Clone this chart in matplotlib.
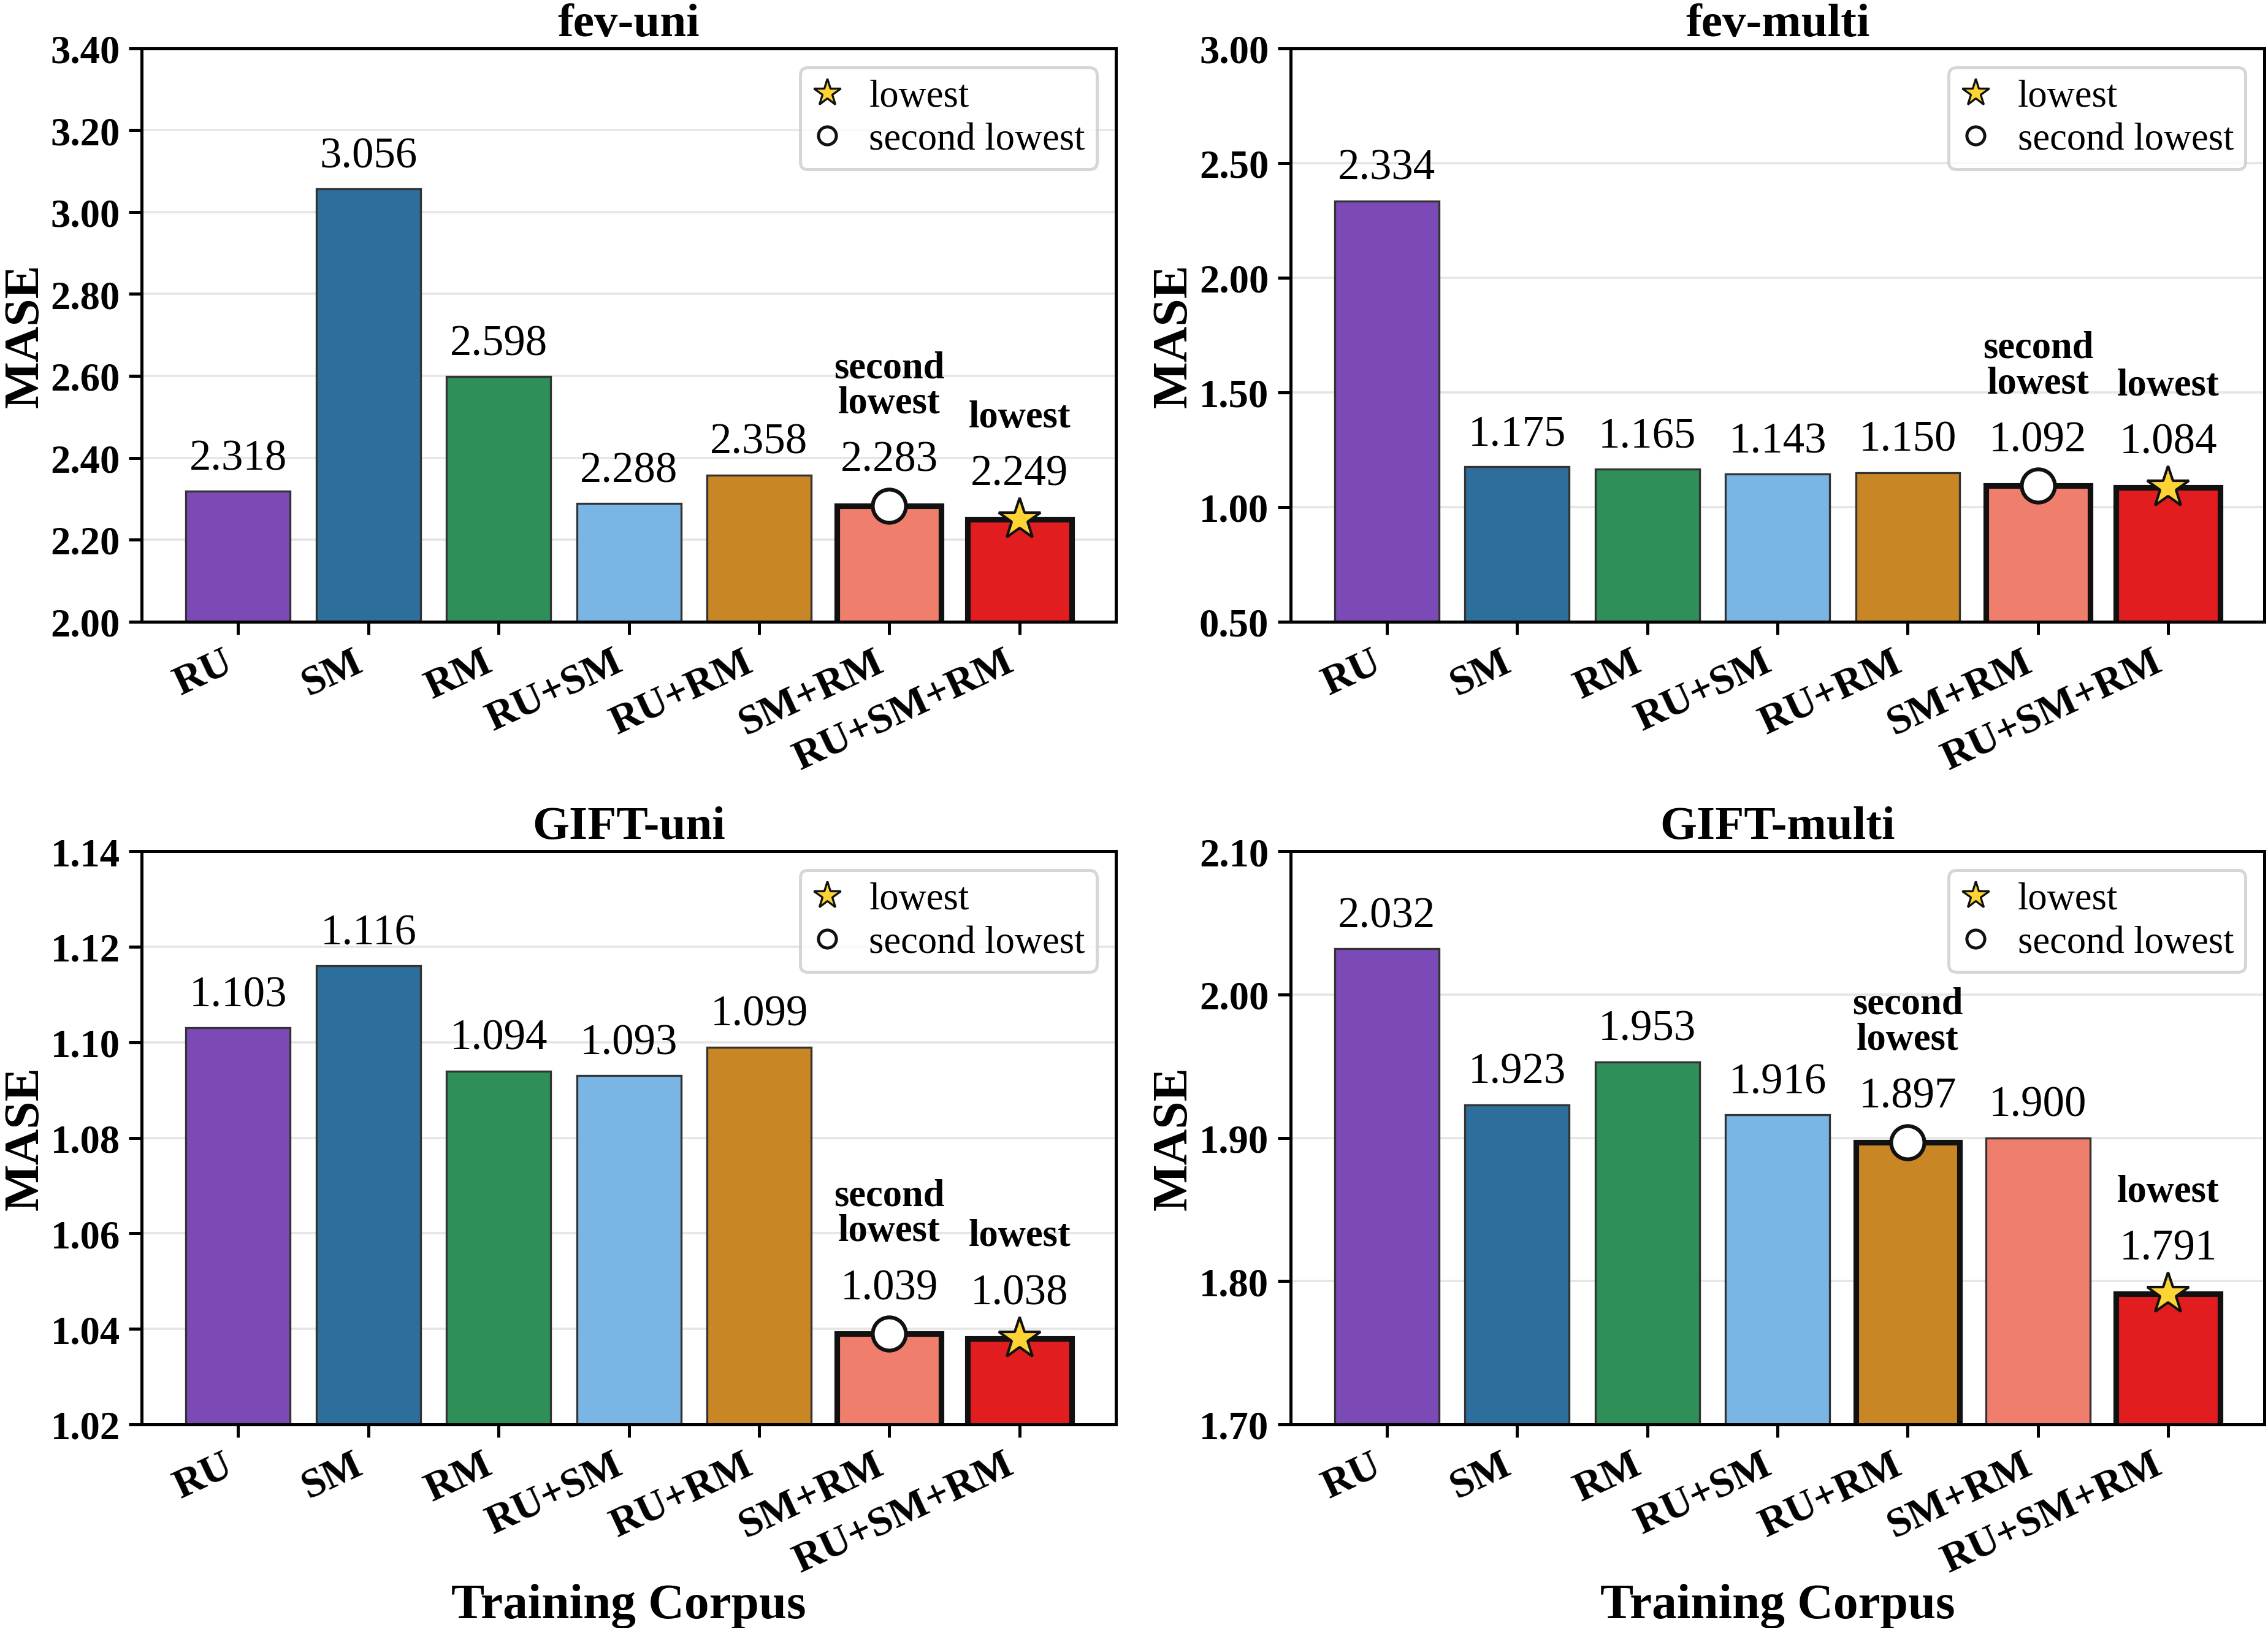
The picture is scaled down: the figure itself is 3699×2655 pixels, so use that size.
import numpy as np
import matplotlib
matplotlib.use("Agg")
import matplotlib.pyplot as plt
from matplotlib.lines import Line2D

plt.rcParams['font.family'] = ['Liberation Serif', 'DejaVu Serif']

corpora = ["RU", "SM", "RM", "RU+SM", "RU+RM", "SM+RM", "RU+SM+RM"]
colors = ["#7b4ab6", "#2e6e9c", "#2e8f59", "#79b6e6", "#c98624", "#f07e6c", "#e11d1f"]

titles = ["fev-uni", "fev-multi", "GIFT-uni", "GIFT-multi"]
fev_uni = [2.318, 3.056, 2.598, 2.288, 2.358, 2.283, 2.249]
fev_multi = [2.334, 1.175, 1.165, 1.143, 1.150, 1.092, 1.084]
gift_uni = [1.103, 1.116, 1.094, 1.093, 1.099, 1.039, 1.038]
gift_multi = [2.032, 1.923, 1.953, 1.916, 1.897, 1.900, 1.791]

# y-axis ranges and tick steps per panel
ylims = [(2.00, 3.40), (0.50, 3.00), (1.02, 1.14), (1.70, 2.10)]
ysteps = [0.20, 0.50, 0.02, 0.10]

fig = plt.figure(figsize=(12.33, 8.853), dpi=300)
rects = [[0.0625, 0.618, 0.4295, 0.352], [0.569, 0.618, 0.4295, 0.352],
         [0.0625, 0.125, 0.4295, 0.352], [0.569, 0.125, 0.4295, 0.352]]

x = np.arange(len(corpora))
for i, vals in enumerate([fev_uni, fev_multi, gift_uni, gift_multi]):
    ax = fig.add_axes(rects[i])
    vals = np.array(vals)
    order = np.argsort(vals)
    lo, second = order[0], order[1]

    bars = ax.bar(x, vals, width=0.8, color=colors, edgecolor="#333333",
                  linewidth=0.8, zorder=2)
    for j in (lo, second):
        bars[j].set_edgecolor("#111111")
        bars[j].set_linewidth(2.2)

    ax.plot(x[second], vals[second], marker="o", ms=13, mfc="white",
            mec="#111111", mew=1.5, ls="none", zorder=4, clip_on=False)
    ax.plot(x[lo], vals[lo], marker="*", ms=17, mfc="#fdd434",
            mec="#111111", mew=1.0, ls="none", zorder=4, clip_on=False)

    for j, v in enumerate(vals):
        off = 10 if j in (lo, second) else 5
        ax.annotate(f"{v:.3f}", (x[j], v), xytext=(0, off),
                    textcoords="offset points", ha="center", va="bottom",
                    fontsize=17)
        if j == lo:
            ax.annotate("lowest", (x[j], v), xytext=(0, off + 23),
                        textcoords="offset points", ha="center", va="bottom",
                        fontsize=15, fontweight="bold")
        elif j == second:
            ax.annotate("second\nlowest", (x[j], v), xytext=(0, off + 23),
                        textcoords="offset points", ha="center", va="bottom",
                        fontsize=15, fontweight="bold", linespacing=1.0)

    ax.set_ylim(*ylims[i])
    ax.set_yticks(np.arange(ylims[i][0], ylims[i][1] + 1e-9, ysteps[i]))
    ax.set_yticklabels([f"{t:.2f}" for t in ax.get_yticks()],
                       fontsize=15.5, fontweight="bold")
    ax.set_xticks(x)
    ax.set_xticklabels(corpora, rotation=25, ha="right", fontsize=16.2,
                       fontweight="bold")
    ax.grid(axis="y", color="#e6e6e6", lw=0.9, zorder=0)
    ax.set_axisbelow(True)
    for s in ax.spines.values():
        s.set_linewidth(1.2)
    ax.tick_params(width=1.2, length=5)
    ax.set_title(titles[i], fontsize=18.5, fontweight="bold", pad=5)
    ax.set_ylabel("MASE", fontsize=19.5, fontweight="bold", labelpad=1)
    if i >= 2:
        ax.set_xlabel("Training Corpus", fontsize=19.5, fontweight="bold",
                      labelpad=1)

    handles = [Line2D([], [], marker="*", ms=11, mfc="#fdd434", mec="#111111",
                      mew=0.8, ls="none"),
               Line2D([], [], marker="o", ms=7, mfc="white", mec="#111111",
                      mew=1.2, ls="none")]
    leg = ax.legend(handles, ["lowest", "second lowest"], loc="upper right",
                    fontsize=15, frameon=True, fancybox=True, handlelength=0.8,
                    handletextpad=0.7, borderpad=0.3, labelspacing=0.2)
    leg.get_frame().set_edgecolor("#cccccc")
    leg.get_frame().set_linewidth(1.2)

fig.savefig("out.png", dpi=300)
